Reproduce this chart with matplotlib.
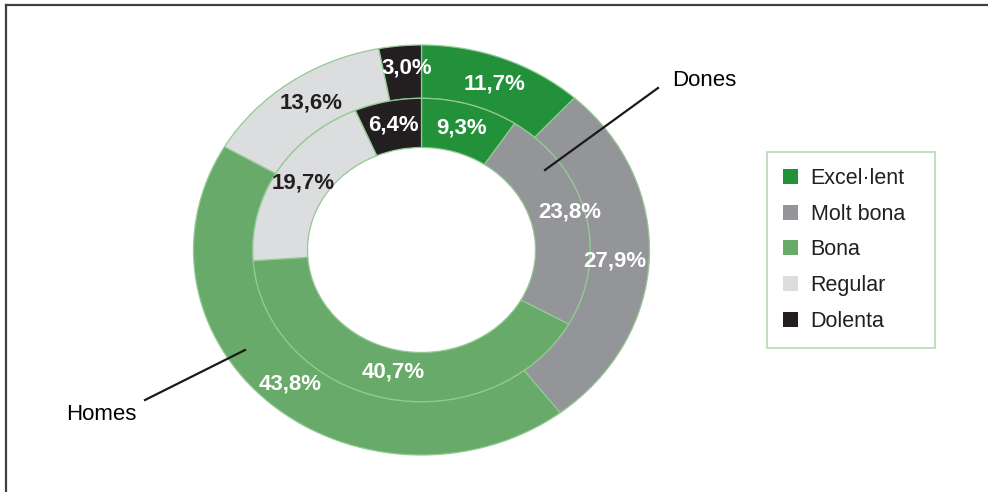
import matplotlib.pyplot as plt
from matplotlib.lines import Line2D
from matplotlib.patches import Patch
import numpy as np

plt.rcParams["font.family"] = ["Liberation Sans", "DejaVu Sans"]

categories = ["Excel·lent", "Molt bona", "Bona", "Regular", "Dolenta"]
homes = [11.7, 27.9, 43.8, 13.6, 3.0]
dones = [9.3, 23.8, 40.7, 19.7, 6.4]

colors = ["#22913A", "#939598", "#67AA69", "#DCDDDF", "#231F20"]
label_colors = ["white", "white", "white", "#231F20", "white"]
edge_color = "#93C993"

fig = plt.figure(figsize=(9.88, 4.92), dpi=100)
ax = fig.add_axes([0, 0, 1, 1])

# dos anells: exterior homes, interior dones
outer, _ = ax.pie(homes, radius=1.0, colors=colors, startangle=90, counterclock=False,
                  wedgeprops=dict(width=0.26, edgecolor=edge_color, linewidth=0.9))
inner, _ = ax.pie(dones, radius=0.74, colors=colors, startangle=90, counterclock=False,
                  wedgeprops=dict(width=0.24, edgecolor=edge_color, linewidth=0.9))

# petits desplaçaments de les etiquetes respecte al centre de cada sector
outer_shift = [(0.01, 0.0), (-0.023, -0.019), (0.0, 0.0), (0.02, 0.007), (0.015, 0.02)]
inner_shift = [(0.0, 0.01), (0.058, 0.041), (0.01, 0.0), (0.0, 0.01), (0.0, 0.01)]


def label_ring(wedges, values, r, shifts):
    for w, v, c, (dx, dy) in zip(wedges, values, label_colors, shifts):
        ang = np.deg2rad((w.theta1 + w.theta2) / 2)
        x = r * np.cos(ang) + dx
        y = r * np.sin(ang) + dy
        ax.text(x, y, f"{v:.1f}%".replace(".", ","), ha="center", va="center",
                fontsize=16, fontweight="bold", color=c)


label_ring(outer, homes, 0.87, outer_shift)
label_ring(inner, dones, 0.61, inner_shift)

# línies indicadores de cada anell
ax.plot([(658 - 421.5) / 228, (545 - 421.5) / 228], [(250 - 88) / 205, (250 - 170) / 205],
        color="#1a1a1a", lw=1.6)
ax.plot([(145 - 421.5) / 228, (245 - 421.5) / 228], [(250 - 400) / 205, (250 - 350) / 205],
        color="#1a1a1a", lw=1.6)
ax.text((672 - 421.5) / 228, (250 - 80) / 205, "Dones", ha="left", va="center", fontsize=16)
ax.text((136 - 421.5) / 228, (250 - 415) / 205, "Homes", ha="right", va="center", fontsize=16)

ax.set_aspect("auto")
ax.set_xlim(-421.5 / 228, (988 - 421.5) / 228)
ax.set_ylim((250 - 492) / 205, 250 / 205)
ax.axis("off")

handles = [Patch(facecolor=c, edgecolor="none") for c in colors]
leg = ax.legend(handles, categories, loc="upper left",
                bbox_to_anchor=(767 / 988, 1 - 347 / 492, 168 / 988, 195 / 492),
                bbox_transform=fig.transFigure, mode="expand", borderaxespad=0,
                fontsize=15.5, frameon=True, fancybox=False, handlelength=0.68,
                handleheight=0.68, handletextpad=0.6, labelspacing=0.68, borderpad=0.75)
leg.get_frame().set_edgecolor("#A3D0A3")
leg.get_frame().set_linewidth(1.2)
for t in leg.get_texts():
    t.set_color("#231F20")

# marc superior i esquerre
fig.add_artist(Line2D([6 / 988, 1], [1 - 4.5 / 492, 1 - 4.5 / 492], color="#404040", lw=1.6))
fig.add_artist(Line2D([6 / 988, 6 / 988], [0, 1 - 4.5 / 492], color="#404040", lw=1.6))

fig.savefig("out.png", dpi=100)
